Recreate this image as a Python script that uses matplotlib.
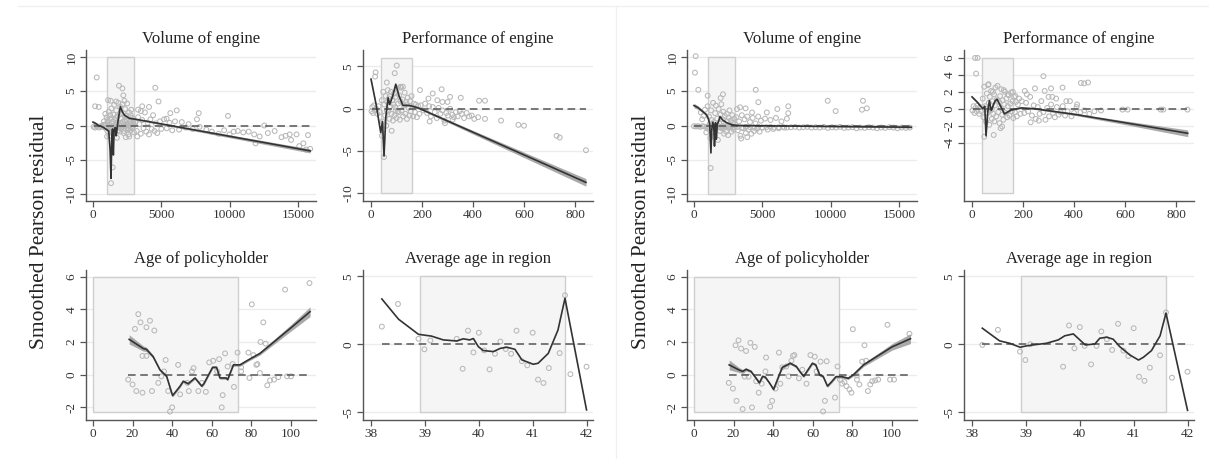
import matplotlib
matplotlib.use("Agg")
import matplotlib.pyplot as plt
from matplotlib.patches import Rectangle
from matplotlib.lines import Line2D
import numpy as np

plt.rcParams['font.family'] = ['Liberation Serif', 'DejaVu Serif']

# ---------------- titles / labels ----------------
titles = ["Volume of engine", "Performance of engine", "Age of policyholder", "Average age in region"]
ylabel = "Smoothed Pearson residual"

# ---------------- tick values ----------------
vol_xticks = [0, 5000, 10000, 15000]
vol_yticks = [-10, -5, 0, 5, 10]
perf_xticks = [0, 200, 400, 600, 800]
perf_yticks_L = [-10, -5, 0, 5]
perf_yticks_R = [-4, -2, 0, 2, 4, 6]
age_xticks = [0, 20, 40, 60, 80, 100]
age_yticks = [-2, 0, 2, 4, 6]
reg_xticks = [38, 39, 40, 41, 42]
reg_yticks = [-5, 0, 5]

# ---------------- shaded ranges (x0, x1, y0, y1) ----------------
vol_rect = [1000, 3000, -10, 10]
perf_rect = [40, 160, -10, 6]
age_rect = [0, 73, -2.3, 6]
reg_rect = [38.9, 41.6, -5, 5]

# ================= LEFT PANEL =================
# Volume of engine
volL_sx = [50,150,250,350,450,550,650,750,850,950,
           270,150,420,1100,1900,2150,2220,4560,4800,6130,5660,7740,7610,9880,5390,1320,1440,
           1000,1050,1100,1150,1200,1250,1300,1350,1400,1450,1500,1550,1600,1650,1700,1750,1800,1850,1900,1950,
           2000,2050,2100,2150,2200,2250,2300,2350,2400,2450,2500,2550,2600,2650,2700,2750,2800,2850,2900,2950,3000,
           1120,1220,1380,1480,1580,1680,1780,1880,1980,2080,2180,2280,2380,2480,2580,2680,2780,2880,2980,
           1300,1700,2300,900,800,1030,2400,2650,
           3100,3200,3300,3400,3500,3600,3700,3800,3900,4000,4100,4200,4300,4400,4500,4600,4700,4900,5000,5200,
           5400,5600,5800,6000,6300,6500,6800,7000,3300,3600,4100,3250,3500,
           7300,7800,8300,8700,9200,9600,10000,10300,10600,11000,11400,11800,11900,12200,12540,12800,13300,13800,
           14100,14500,14900,15400,15900,15100,15600,15740,14400,
           1060,1160,1260,1360,1460,1560,1660,1760,1860,1960,2060,2160,2260,2360,2460,2560,2660,2760,2860,2960]
volL_sy = [-0.2,-0.3,-0.1,-0.2,-0.3,-0.1,-0.2,0.1,-0.3,0.2,
           7.0,2.8,2.7,3.7,5.8,5.4,4.4,5.5,3.5,2.2,1.8,1.8,0.9,1.4,1.0,-8.4,-6.1,
           1.2,-0.8,0.5,2.0,-1.5,1.0,-0.4,2.5,0.3,-1.2,1.6,3.0,-0.6,0.8,2.2,-1.8,1.3,3.3,0.2,-0.9,
           2.7,1.0,-0.3,3.1,1.8,-1.1,0.7,2.4,-0.5,1.4,3.2,0.1,-1.3,1.9,0.6,-0.7,2.3,1.1,-0.2,0.9,-1.0,
           -0.2,0.1,-0.3,0.0,-0.2,0.2,-0.1,-0.3,0.0,0.3,-0.2,0.1,-0.1,0.2,-0.4,0.0,0.2,-0.3,0.1,
           3.6,3.5,3.6,1.7,0.6,-1.6,-1.7,-1.6,
           0.5,-0.8,1.2,0.2,-1.2,0.8,-0.4,1.9,-0.9,0.4,-1.3,0.9,-0.5,1.5,-0.8,0.3,-1.1,0.6,-0.5,0.9,
           -0.4,0.4,-0.7,0.6,-0.6,0.5,-0.3,0.2,2.3,2.8,2.7,-1.6,2.1,
           -0.5,-0.2,-0.6,-0.9,-1.2,-0.7,-1.3,-0.9,-0.8,-1.0,-0.9,-1.3,-2.6,-1.6,0.0,-1.1,-0.8,-1.7,
           -1.5,-2.1,-1.3,-2.6,-3.4,-3.0,-3.5,-1.4,-1.3,
           0.8,-0.6,1.5,-0.9,0.6,-0.4,1.1,0.4,-0.7,1.7,-0.5,0.5,-0.8,1.2,0.9,-0.6,0.3,1.5,-0.4,0.6]
volL_lx = [0,200,400,700,1000,1150,1250,1320,1380,1430,1490,1540,1590,1640,1700,1760,1820,1900,2000,2150,2300,2660,3150,15900]
volL_ly = [0.5,0.3,0.0,-0.2,-0.6,-0.8,-3.5,-7.7,-1.6,-0.5,-4.3,-1.0,-0.4,-0.3,-1.5,-0.5,0.5,1.5,2.75,2.0,1.5,1.05,0.9,-3.7]
volL_bw = [0.2,0.15,0.1,0.1,0.1,0.1,0.1,0.1,0.1,0.1,0.1,0.1,0.1,0.1,0.1,0.1,0.1,0.1,0.1,0.1,0.1,0.1,0.1,0.3]

# Performance of engine
perfL_sx = [2,5,8,12,15,20,25,30,35,
            101,18,16,93,62,192,242,277,310,352,280,300,424,447,447,510,578,600,728,740,843,51,43,81,
            42,45,48,52,55,58,60,63,66,68,70,72,75,78,80,83,86,88,90,92,95,98,100,103,106,108,110,113,115,118,
            120,123,126,129,132,135,138,141,144,147,150,153,156,159,162,165,168,172,176,180,185,190,195,
            115,125,47,62,73,85,97,105,140,
            205,212,220,228,235,242,250,258,265,272,280,288,295,302,310,318,325,333,340,348,356,365,375,385,395,405,420,
            225,260,290,230,320]
perfL_sy = [-0.3,0.2,-0.5,0.4,-0.2,0.0,-0.6,0.3,-0.4,
            5.1,4.3,3.8,4.2,3.1,2.2,1.8,2.3,1.4,1.3,0.8,0.8,0.95,0.95,-1.2,-1.4,-1.9,-2.0,-3.2,-3.4,-4.9,-5.7,-3.2,-2.6,
            1.0,-1.5,2.0,0.5,-0.8,1.5,-2.0,0.8,2.2,-0.3,1.2,-1.2,0.3,2.0,-0.6,1.0,-1.4,0.5,1.8,-0.8,0.2,1.4,-1.1,2.4,0.6,-0.4,1.6,-1.3,0.9,2.5,
            -0.2,1.1,-0.9,0.4,1.9,-0.6,0.8,-1.2,1.3,0.1,-0.8,0.9,-0.3,1.5,0.2,-0.9,0.6,-0.4,0.5,-1.0,0.3,-0.6,0.4,
            2.6,2.6,-2.5,-0.2,1.5,1.0,-0.2,-0.3,0.5,
            -0.2,0.6,-0.5,0.3,-0.9,0.2,-0.4,-1.1,0.1,-0.6,-0.2,-1.4,-0.5,-0.8,0.0,-0.7,-1.0,-0.4,-0.9,-0.3,-0.6,-1.1,-0.5,-0.9,-0.8,-1.2,-1.0,
            1.2,1.0,-1.7,-1.5,-1.3]
perfL_lx = [0,20,38,45,51,58,67,73,85,97,110,125,150,185,843]
perfL_ly = [3.5,0.5,-2.8,-1.5,-5.6,-1.0,1.3,0.5,1.5,2.9,1.5,0.4,0.4,0.1,-8.7]
perfL_bw = [0.15,0.1,0.1,0.1,0.1,0.1,0.1,0.1,0.1,0.1,0.1,0.1,0.1,0.1,0.45]

# Age of policyholder
ageL_sx = [17.8,20,21.2,22.9,24,21.9,25,27,28.8,31,29.8,25,27,33,34.5,36.7,35.9,38,38.9,40,43,44,47.6,48.4,50,50.8,
           53.2,55,57,58.7,60.7,63.7,62.7,65.5,65,66.7,68,70.5,71.2,73,74.8,74.8,78.5,79,80.2,81,82.5,83,84.3,84.6,
           86,87.2,88,89.4,91.4,93.6,97,98,100,109.3]
ageL_sy = [-0.3,-0.6,2.8,3.7,3.2,-1.0,-1.1,2.9,3.3,2.7,-1.0,1.15,1.15,-0.5,-0.1,0.9,0.2,-1.0,-2.26,-2.0,0.6,-1.2,-0.5,-1.0,0.2,0.4,
           -1.0,-0.5,-1.05,0.75,0.85,0.95,0.2,-1.25,-2.0,1.3,0.5,0.65,-0.75,1.35,0.45,0.2,1.35,-0.2,4.3,1.2,0.6,0.65,0.1,2.0,
           3.2,1.9,-0.65,-0.35,-0.3,-0.15,5.2,-0.1,-0.1,5.6]
ageL_lx = [18.3,25.4,27,30.4,33.8,37.2,40.2,44,45.6,48.1,51.5,54.9,56,60.4,62.4,64.1,67.2,68,70.9,74.2,78.4,84.3,100,109.6]
ageL_ly = [2.16,1.6,1.55,1.1,0.3,-0.1,-1.28,-0.7,-0.4,-0.55,-0.2,-0.7,-0.55,0.45,0.45,-0.2,-0.2,-0.3,0.6,0.6,0.9,1.3,2.87,3.85]
ageL_bw = [0.28,0.16,0.13,0.1,0.08,0.08,0.08,0.08,0.08,0.08,0.08,0.08,0.08,0.08,0.08,0.08,0.08,0.08,0.08,0.08,0.08,0.1,0.2,0.3]

# Average age in region
regL_sx = [38.2,38.5,38.88,38.99,39.1,39.59,39.7,39.8,39.9,40.0,40.1,40.2,40.3,40.4,40.5,40.6,40.7,40.8,40.9,41.0,
           41.1,41.2,41.3,41.5,41.6,41.7,42.0]
regL_sy = [1.3,2.96,0.4,-0.37,0.28,0.4,-1.8,1.0,-0.6,0.85,-0.45,-1.85,-0.7,0.2,-0.35,-0.7,1.0,-1.25,-1.55,0.85,
           -2.6,-2.85,-1.75,-0.65,3.6,-2.2,-1.65]
regL_lx = [38.2,38.51,38.88,39.12,39.34,39.59,39.71,39.83,39.9,39.99,40.08,40.27,40.4,40.52,40.67,40.8,41.01,41.1,41.29,41.47,41.6,42.0]
regL_ly = [3.33,1.84,0.73,0.6,0.32,0.24,0.4,0.32,0.42,-0.17,-0.46,-0.54,-0.3,-0.22,-0.37,-1.15,-1.47,-1.4,-0.67,1.05,3.38,-4.83]

# ================= RIGHT PANEL =================
volR_sx = [0,150,300,450,600,750,900,3200,3500,3800,4100,4400,4700,5000,5300,5600,5900,6200,6500,6800,7100,7400,7700,8000,
           8300,8600,8900,9200,9500,9800,10100,10400,10700,11000,11300,11600,11900,12200,12500,12800,13100,13400,13700,14000,
           14300,14600,14900,15200,15500,15800,
           120,70,315,1000,2120,1950,1220,4520,4710,3370,3780,5330,6100,6900,6900,9790,10370,12370,12300,12650,
           1000,1050,1100,1150,1200,1250,1300,1350,1400,1450,1500,1550,1600,1650,1700,1750,1800,1850,1900,1950,2000,2050,
           2100,2150,2200,2250,2300,2350,2400,2450,2500,2550,2600,2650,2700,2750,2800,2850,2900,2950,3000,
           1020,1120,1220,1320,1420,1520,1620,1720,1820,1920,2020,2120,2220,2320,2420,2520,2620,2720,2820,2920,
           3100,3200,3300,3400,3500,3600,3700,3800,3900,4000,4100,4200,4300,4400,4500,4600,4700,4800,4900,5000,5200,5400,
           5600,5800,6000,6200,6400,6600,6800,3150,3450,3900,4250,700,800,600,500,900]
volR_sy = [-0.1,-0.15,-0.1,-0.2,-0.1,-0.15,-0.2,-0.2,-0.3,-0.2,-0.25,-0.3,-0.2,-0.3,-0.25,-0.2,-0.3,-0.25,-0.2,-0.3,-0.25,-0.2,-0.3,-0.25,
           -0.2,-0.3,-0.25,-0.3,-0.2,-0.35,-0.25,-0.3,-0.2,-0.35,-0.3,-0.25,-0.4,-0.3,-0.35,-0.25,-0.3,-0.4,-0.3,-0.35,
           -0.25,-0.3,-0.4,-0.3,-0.35,-0.3,
           10.1,7.7,5.2,4.35,4.55,4.0,-6.2,5.2,3.4,2.65,2.5,1.9,2.4,2.8,1.8,3.6,2.1,3.6,2.3,2.5,
           2.8,-0.5,1.3,0.2,-1.8,2.2,0.8,-1.0,3.3,0.5,-1.5,1.8,2.9,-0.3,1.0,-2.1,2.4,0.3,-0.8,1.6,3.1,-0.4,
           0.9,2.0,-1.2,1.4,0.1,-0.9,1.7,0.6,-1.4,1.1,2.2,-0.2,0.7,-0.9,1.5,0.4,-0.6,1.0,0.2,
           -0.2,-0.3,-0.1,-0.3,-0.2,-0.1,-0.3,-0.2,-0.1,-0.3,-0.2,-0.1,-0.3,-0.2,-0.1,-0.3,-0.2,-0.1,-0.3,-0.2,
           1.2,-0.7,0.6,-1.5,1.5,-0.4,0.9,-1.1,1.3,-0.6,0.5,-1.2,1.1,-0.8,0.3,-0.5,1.3,-0.9,0.7,-0.3,1.0,-0.6,
           0.8,-0.5,1.1,-0.4,0.6,-0.3,1.0,2.4,-1.9,-1.7,1.9,1.4,2.3,0.9,1.9,-1.0]
volR_lx = [0,300,600,900,1050,1150,1240,1300,1380,1450,1500,1570,1640,1700,1780,1900,2100,2400,2800,3200,8000,15900]
volR_ly = [2.9,2.6,2.1,1.6,1.0,0.2,-4.0,-0.6,0.5,-0.3,-3.0,0.4,-2.0,0.2,0.5,1.3,0.8,0.4,0.1,0.0,-0.1,-0.25]
volR_bw = [0.35,0.25,0.2,0.15,0.1,0.1,0.1,0.1,0.1,0.1,0.1,0.1,0.1,0.1,0.1,0.1,0.1,0.08,0.06,0.05,0.05,0.12]

perfR_sx = [2,6,10,14,18,22,28,32,36,
            12,22,16,280,427,440,455,355,285,310,247,300,315,330,370,384,412,48,85,112,118,506,590,610,740,750,845,
            42,45,48,52,55,58,60,63,66,68,70,72,75,78,80,83,86,88,90,92,95,98,100,103,106,108,110,113,115,118,
            120,123,126,129,132,135,138,141,144,147,150,153,156,159,162,165,168,172,176,180,185,190,195,
            65,82,125,140,160,170,57,77,
            205,212,220,228,235,242,250,258,265,272,280,288,295,302,310,318,325,333,340,348,356,365,375,390,400,410,
            425,440,460,480,230,262,215,207]
perfR_sy = [-0.2,0.3,-0.5,0.1,-0.3,0.4,-0.6,0.2,-0.3,
            6.0,6.0,4.15,3.85,3.05,3.0,3.1,2.5,2.1,2.4,2.4,1.4,1.4,1.2,0.9,0.9,0.5,-3.3,-3.1,-2.3,-2.1,-0.2,-0.1,-0.1,-0.1,-0.1,-0.1,
            1.2,-1.0,2.6,0.3,-1.5,1.8,-0.5,2.8,0.7,-1.9,1.4,-0.2,2.1,-1.2,0.9,-0.6,1.7,-1.5,0.4,2.5,-0.9,1.1,2.7,-0.4,0.8,-1.7,1.5,0.1,2.3,-0.7,
            1.0,-1.3,0.5,2.0,-0.5,1.2,-1.0,0.3,1.6,-0.8,0.6,1.9,-0.3,0.9,-1.1,1.4,-0.4,0.8,-0.9,0.5,1.2,-0.6,0.9,
            2.9,2.0,2.2,1.7,2.0,1.5,0.0,-0.1,
            -0.5,0.7,-0.3,1.4,-0.8,0.4,-1.2,0.2,-0.6,0.9,-0.4,-1.3,0.1,-0.9,0.5,-0.5,-1.0,0.2,-0.7,-0.4,0.3,-0.8,-0.3,-0.9,-0.5,0.2,
            -0.4,-0.2,-0.6,-0.3,-1.6,-1.4,1.7,2.1]
perfR_lx = [0,20,42,50,55,62,68,75,82,90,98,112,127,153,192,245,400,600,846]
perfR_ly = [1.4,0.8,0.0,0.3,-3.2,-0.3,0.95,-0.2,0.3,0.9,1.15,0.3,-0.6,-0.15,0.1,0.0,-0.65,-1.65,-2.9]
perfR_bw = [0.15,0.1,0.08,0.08,0.08,0.08,0.08,0.08,0.08,0.08,0.08,0.08,0.08,0.08,0.08,0.08,0.12,0.22,0.4]

ageR_sx = [17.6,19.7,21,22.5,23.8,26.3,28.5,30.7,21.5,24.6,29.3,25.6,27.6,31.4,32.7,34.2,36.4,36.1,38.5,39.5,41.2,42.9,
           43.6,44.6,46.6,47.8,49.2,50,50.7,53,54.7,56.8,58.8,61,61.9,63.9,66.1,67,65.2,71.2,72.5,73.7,74.8,76,77,78.5,
           79.5,80.2,82.3,82.3,83.5,84.9,86.1,86.9,87.8,89,90,91.5,93,97.7,99,101,108.8]
ageR_sy = [-0.5,-0.85,1.8,2.1,1.6,1.45,1.95,1.7,-1.6,-2.1,-2.0,-0.12,-0.12,-0.4,-1.1,-0.55,1.05,0.2,-1.95,-1.6,-0.85,1.35,
           -0.55,0.45,0.5,-0.1,0.85,1.15,1.2,-0.22,0.3,-0.55,1.2,1.1,0.2,0.8,-1.6,0.82,-2.25,-1.4,0.5,-0.3,-0.55,-0.45,-0.7,-0.9,
           -1.1,2.78,-0.3,-0.05,-0.6,0.8,1.8,0.85,-1.0,-0.6,-0.4,-0.35,-0.3,3.05,-0.3,-0.3,2.5]
ageR_lx = [17.8,22.9,24.6,26.3,28.8,31.4,33,34.7,36,38.1,40.2,42.4,44.6,46.3,48.6,51.7,53.4,55.4,57.6,59.8,61.5,63.5,65.2,
           67.4,69.5,71.7,74.6,77.9,80.5,85.6,100,109.3]
ageR_ly = [0.6,0.28,0.2,0.33,0.2,-0.22,-0.5,-0.1,-0.15,-0.5,-0.9,-0.22,0.45,0.55,0.7,0.5,0.2,-0.1,0.3,0.7,0.6,-0.02,-0.1,
           -0.7,-0.43,-0.12,-0.12,-0.22,0.0,0.6,1.7,2.2]
ageR_bw = [0.3,0.15,0.12,0.1,0.08,0.08,0.08,0.08,0.08,0.08,0.08,0.08,0.08,0.08,0.08,0.08,0.08,0.08,0.08,0.08,0.08,0.08,0.08,
           0.08,0.08,0.08,0.08,0.08,0.08,0.1,0.2,0.3]

regR_sx = [38.19,38.48,38.89,38.99,39.08,39.69,39.8,39.9,40.0,40.09,40.21,40.31,40.4,40.5,40.6,40.71,40.81,40.9,41.0,
           41.1,41.2,41.3,41.49,41.6,41.71,42.0]
regR_sy = [-0.05,1.06,-0.54,-1.16,0.0,-1.65,1.38,-0.3,1.26,-0.12,-1.48,-0.12,0.94,0.37,-0.42,1.5,-0.47,-0.86,1.18,
           -2.39,-2.69,-1.72,-0.81,2.34,-2.46,-2.02]
regR_lx = [38.19,38.51,38.7,38.89,39.01,39.13,39.38,39.6,39.72,39.88,40.0,40.1,40.28,40.37,40.5,40.62,40.74,40.93,41.09,
           41.18,41.33,41.49,41.6,42.0]
regR_ly = [1.18,0.25,0.07,-0.22,-0.12,-0.05,0.07,0.32,0.62,0.76,0.32,-0.05,0.02,0.44,0.52,0.37,-0.17,-0.79,-1.16,
           -0.96,-0.47,0.62,2.29,-4.86]

# ---------------- layout (pixels of the 1209x459 canvas) ----------------
W, H = 1209, 459
fig = plt.figure(figsize=(W / 100, H / 100), dpi=100)
fig.patch.set_facecolor('white')

def px_axes(x0, x1, ytop, ybot):
    return fig.add_axes([x0 / W, 1 - ybot / H, (x1 - x0) / W, (ybot - ytop) / H])

PT_COL = '#b8b8b8'
LINE_COL = '#333333'
BAND_COL = '#959595'

def panel(ax, title, xlim, ylim, xticks, yticks, rect, sx, sy, lx, ly, bw):
    ax.set_xlim(*xlim)
    ax.set_ylim(*ylim)
    for yt in yticks:
        ax.axhline(yt, color='#ececec', lw=1.0, zorder=0)
    ax.add_patch(Rectangle((rect[0], rect[2]), rect[1] - rect[0], rect[3] - rect[2],
                           facecolor='#f5f5f5', edgecolor='#cfcfcf', lw=1.0, zorder=0.5))
    ax.scatter(sx, sy, s=12, facecolors='none', edgecolors=PT_COL, linewidths=0.75, zorder=2)
    lx_a = np.array(lx, dtype=float)
    ly_a = np.array(ly, dtype=float)
    if bw is not None:
        bw_a = np.array(bw, dtype=float)
        ax.fill_between(lx_a, ly_a - bw_a, ly_a + bw_a, color=BAND_COL, lw=0, alpha=0.8, zorder=3)
    ax.plot([min(sx), max(sx)], [0, 0], color='#555555', lw=1.1, ls=(0, (5, 3)), zorder=4)
    ax.plot(lx_a, ly_a, color=LINE_COL, lw=1.2, zorder=5)
    ax.set_xticks(xticks)
    ax.set_yticks(yticks)
    ax.set_yticklabels([str(t) for t in yticks], rotation=90, va='center')
    for s in ['top', 'right']:
        ax.spines[s].set_visible(False)
    for s in ['left', 'bottom']:
        ax.spines[s].set_color('#555555')
        ax.spines[s].set_linewidth(1.0)
    ax.tick_params(direction='out', length=4, width=0.9, color='#555555',
                   labelsize=9.5, labelcolor='#333333', pad=2)
    ax.set_title(title, fontsize=12, color='#222222', pad=5)
    ax.set_facecolor('white')

vol_xlim = (-512, 16325)
vol_ylim = (-11.0, 11.0)
perf_xlim = (-31.4, 870.6)
perf_ylim = (-10.9, 6.94)
age_xlim = (-3.5, 112.6)
age_ylim = (-2.77, 6.40)
reg_xlim = (37.85, 42.12)
reg_ylim = (-5.57, 5.46)

for off, data in [(0, 'L'), (601, 'R')]:
    a1 = px_axes(86 + off, 316 + off, 50, 201)
    a2 = px_axes(363 + off, 593 + off, 50, 201)
    a3 = px_axes(86 + off, 316 + off, 270, 420)
    a4 = px_axes(363 + off, 593 + off, 270, 420)
    if data == 'L':
        panel(a1, titles[0], vol_xlim, vol_ylim, vol_xticks, vol_yticks, vol_rect, volL_sx, volL_sy, volL_lx, volL_ly, volL_bw)
        panel(a2, titles[1], perf_xlim, perf_ylim, perf_xticks, perf_yticks_L, perf_rect, perfL_sx, perfL_sy, perfL_lx, perfL_ly, perfL_bw)
        panel(a3, titles[2], age_xlim, age_ylim, age_xticks, age_yticks, age_rect, ageL_sx, ageL_sy, ageL_lx, ageL_ly, ageL_bw)
        panel(a4, titles[3], reg_xlim, reg_ylim, reg_xticks, reg_yticks, reg_rect, regL_sx, regL_sy, regL_lx, regL_ly, None)
    else:
        panel(a1, titles[0], vol_xlim, vol_ylim, vol_xticks, vol_yticks, vol_rect, volR_sx, volR_sy, volR_lx, volR_ly, volR_bw)
        panel(a2, titles[1], perf_xlim, perf_ylim, perf_xticks, perf_yticks_R, perf_rect, perfR_sx, perfR_sy, perfR_lx, perfR_ly, perfR_bw)
        panel(a3, titles[2], age_xlim, age_ylim, age_xticks, age_yticks, age_rect, ageR_sx, ageR_sy, ageR_lx, ageR_ly, ageR_bw)
        panel(a4, titles[3], reg_xlim, reg_ylim, reg_xticks, reg_yticks, reg_rect, regR_sx, regR_sy, regR_lx, regR_ly, None)
    fig.text((40 + off) / W, 1 - 232 / H, ylabel, rotation=90, ha='center', va='center',
             fontsize=15.5, color='#222222')

# faint frame lines of the two source images
fig.add_artist(Line2D([18 / W, 1], [1 - 6 / H, 1 - 6 / H], color='#f0f0f0', lw=1))
fig.add_artist(Line2D([616 / W, 616 / W], [0, 1 - 6 / H], color='#f0f0f0', lw=1))

fig.savefig('out.png', dpi=100, facecolor='white')
